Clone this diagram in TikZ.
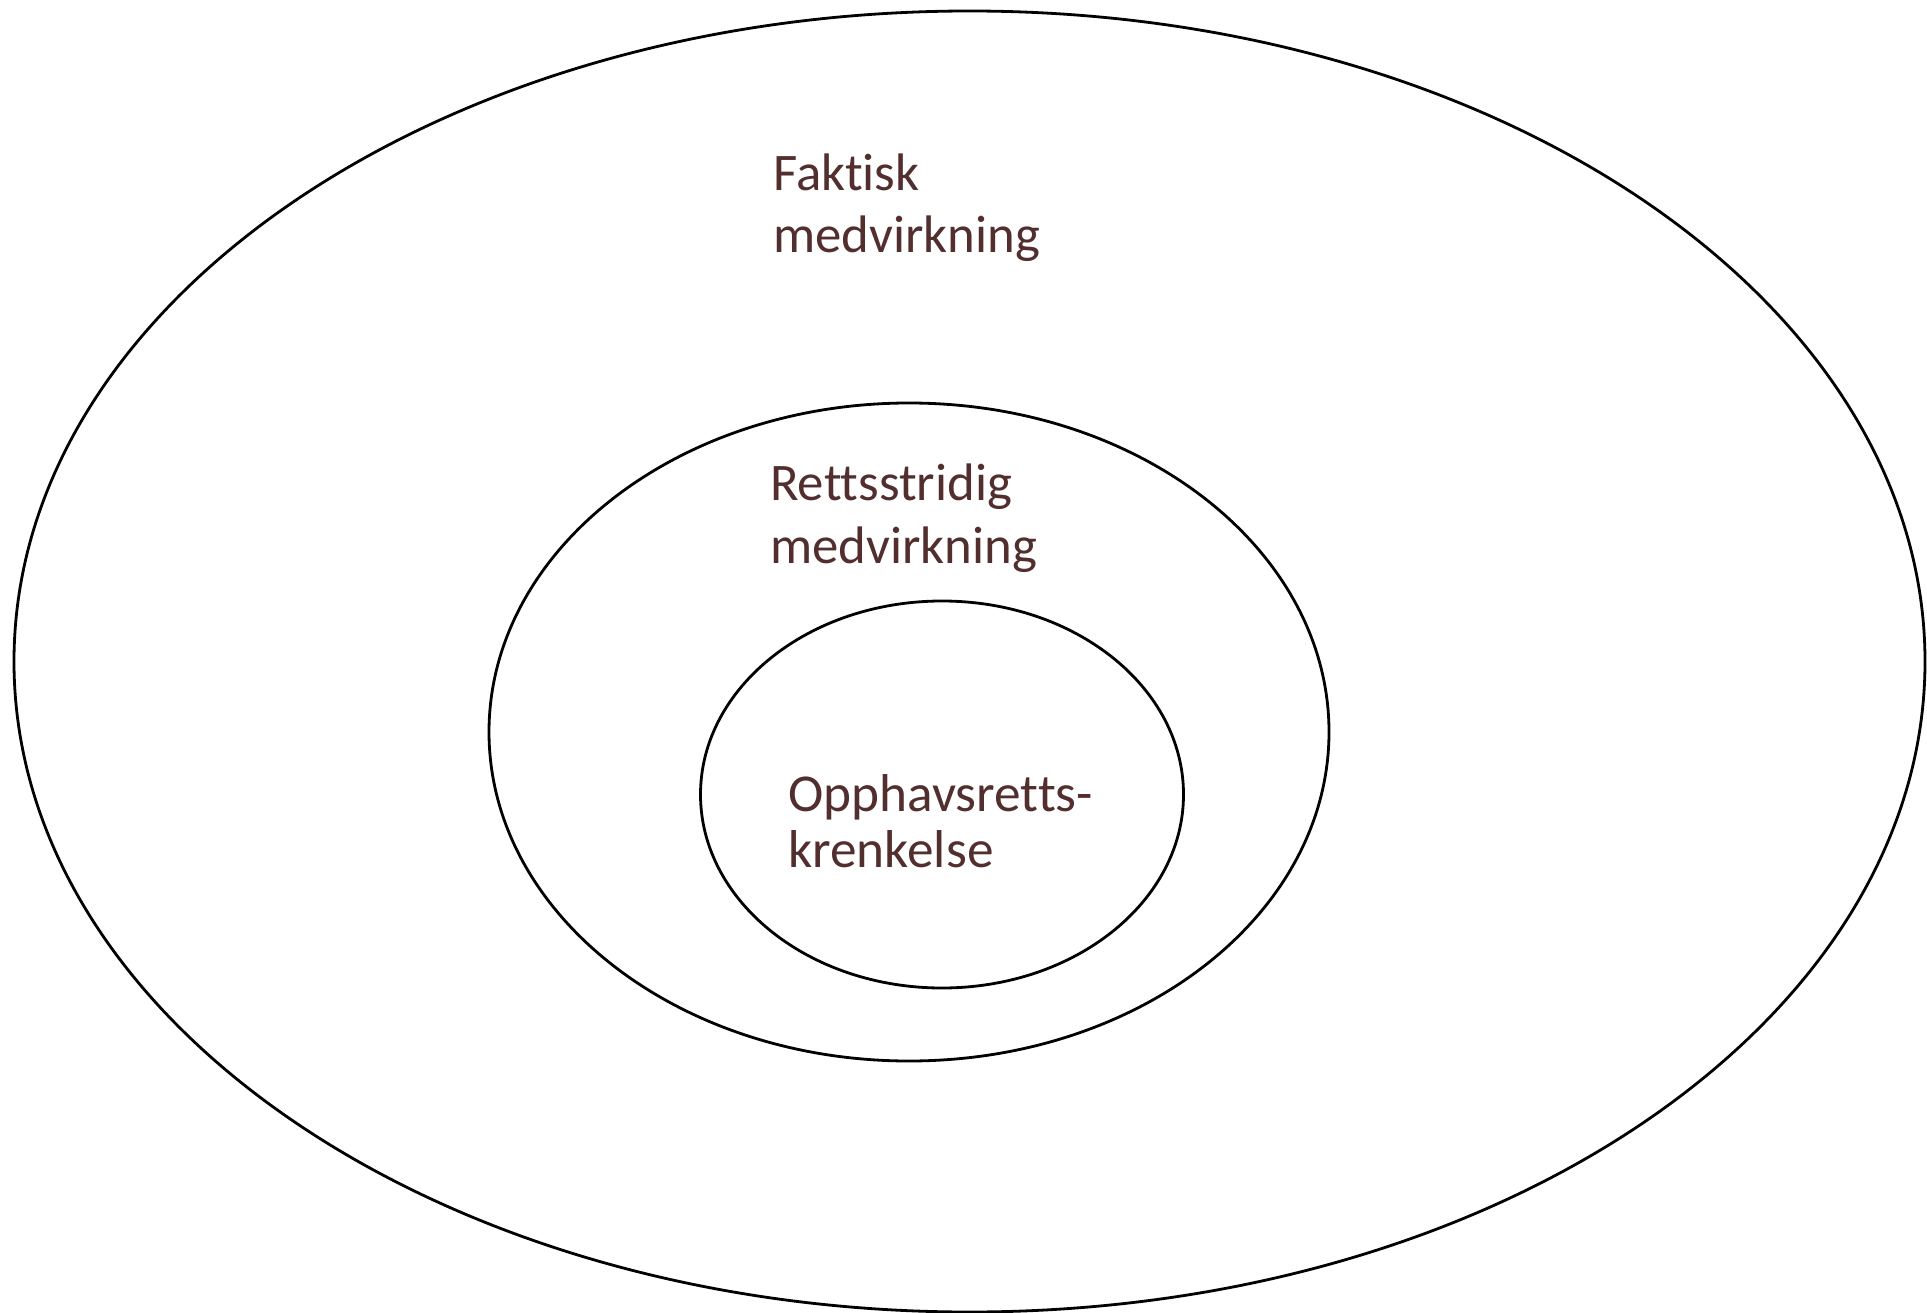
\documentclass[tikz,border=0pt]{standalone}
\usepackage{fontspec}
\setmainfont{Carlito}[Ligatures={NoCommon}]
\definecolor{txt}{HTML}{522E2E}
\tikzset{
  ring/.style={draw=black, line width=2.8pt},
  lbl/.style={text=txt, anchor=base west, align=left, inner sep=0pt,
    font=\fontsize{52.8}{62}\selectfont}
}
\begin{document}
\begin{tikzpicture}[x=1pt,y=-1pt]
\useasboundingbox (0,0) rectangle (1927,1313);
\draw[ring] (969.5,661.5) ellipse [x radius=955.5, y radius=650.5];
\draw[ring] (909,732) ellipse [x radius=420, y radius=329];
\draw[ring] (942,794.5) ellipse [x radius=241.5, y radius=193.5];
\node[lbl] (faktisk) at (773,253) {Faktisk\\medvirkning};
\node[lbl, font=\fontsize{52.8}{63}\selectfont] (retts) at (770,563) {Rettsstridig\\medvirkning};
\node[lbl, font=\fontsize{53.3}{56}\selectfont] (opph) at (788,867) {Opphavsretts-\\krenkelse};
\end{tikzpicture}
\end{document}
